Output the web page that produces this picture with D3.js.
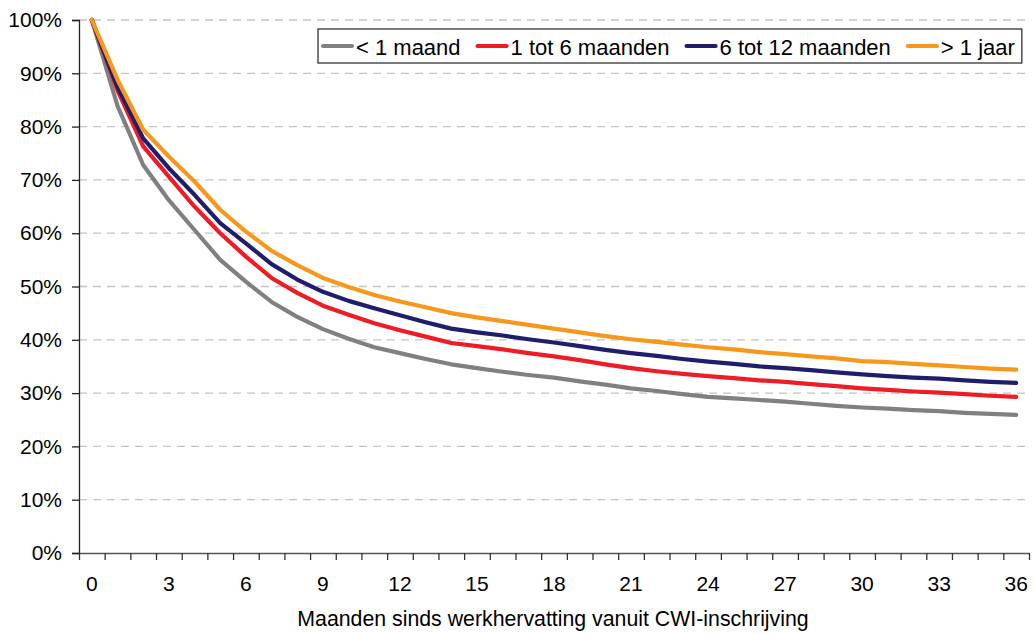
<!DOCTYPE html>
<html>
<head>
<meta charset="utf-8">
<script src="https://cdn.jsdelivr.net/npm/d3@7"></script>
<style>
  html, body { margin: 0; padding: 0; background: #fff; }
  svg text { font-family: "Liberation Sans", Arial, sans-serif; }
</style>
</head>
<body>
<svg id="chart" width="1035" height="633"></svg>
<script>
const months = d3.range(0, 37);
const xTickLabels = [0, 3, 6, 9, 12, 15, 18, 21, 24, 27, 30, 33, 36];
const yTicks = [0, 10, 20, 30, 40, 50, 60, 70, 80, 90, 100];
const seriesNames = ["< 1 maand", "1 tot 6 maanden", "6 tot 12 maanden", "> 1 jaar"];
const seriesColors = ["#808080", "#ee1c25", "#1f1e6c", "#f7981d"];
const lessThan1Month = [100, 83.9, 72.8, 66.2, 60.6, 55.0, 50.9, 47.1, 44.3, 42.0, 40.2, 38.6, 37.5, 36.4, 35.4, 34.7, 34.0, 33.4, 32.9, 32.2, 31.6, 30.9, 30.4, 29.8, 29.3, 29.0, 28.7, 28.4, 28.0, 27.6, 27.3, 27.1, 26.8, 26.6, 26.3, 26.1, 25.9];
const oneToSixMonths = [100, 86.8, 76.3, 70.6, 65.0, 60.0, 55.6, 51.6, 48.8, 46.4, 44.7, 43.1, 41.8, 40.6, 39.4, 38.8, 38.2, 37.5, 36.9, 36.2, 35.4, 34.7, 34.1, 33.6, 33.2, 32.8, 32.4, 32.1, 31.7, 31.3, 30.9, 30.6, 30.3, 30.1, 29.8, 29.5, 29.3];
const sixToTwelveMonths = [100, 87.4, 77.8, 72.2, 67.2, 61.9, 58.1, 54.2, 51.3, 49.0, 47.3, 45.9, 44.6, 43.3, 42.1, 41.4, 40.8, 40.1, 39.5, 38.8, 38.1, 37.5, 37.0, 36.4, 35.9, 35.5, 35.0, 34.7, 34.3, 33.9, 33.5, 33.2, 32.9, 32.7, 32.4, 32.1, 31.9];
const overOneYear = [100, 88.8, 79.4, 74.4, 69.7, 64.4, 60.3, 56.7, 54.0, 51.6, 49.9, 48.4, 47.2, 46.1, 45.0, 44.2, 43.5, 42.8, 42.1, 41.4, 40.7, 40.1, 39.6, 39.1, 38.6, 38.2, 37.7, 37.3, 36.9, 36.5, 36.0, 35.8, 35.5, 35.2, 34.9, 34.6, 34.4];
const xTitle = "Maanden sinds werkhervatting vanuit CWI-inschrijving";

const seriesValues = [lessThan1Month, oneToSixMonths, sixToTwelveMonths, overOneYear];

(function () {
const svg = d3.select("#chart");
const mLeft = 79, mRight = 1029, mTop = 20, mBottom = 553;
const fontSize = 21;

const x = d3.scaleBand().domain(months).range([mLeft, mRight]).padding(0);
const xEdge = d3.scaleLinear().domain([0, months.length]).range([mLeft, mRight]);
const y = d3.scaleLinear().domain([0, 100]).range([mBottom, mTop]);

// gridlines
svg.append("g").selectAll("line").data(yTicks.filter(d => d > 0)).join("line")
  .attr("x1", mLeft).attr("x2", mRight)
  .attr("y1", d => y(d)).attr("y2", d => y(d))
  .attr("stroke", "#c4c4c4").attr("stroke-width", 1.3)
  .attr("stroke-dasharray", "8,6");

// y axis
const yAxis = svg.append("g").attr("transform", `translate(${mLeft},0)`)
  .call(d3.axisLeft(y).tickValues(yTicks).tickFormat(d => d + "%").tickSize(7).tickPadding(10));
yAxis.select(".domain").attr("stroke", "#222").attr("stroke-width", 1.3);
yAxis.selectAll(".tick line").attr("stroke", "#222").attr("stroke-width", 1.3);
yAxis.selectAll("text").attr("font-size", fontSize).attr("fill", "#000")
  .attr("font-family", "Liberation Sans, Arial, sans-serif");

// x axis tick marks (band boundaries)
const xTickAxis = svg.append("g").attr("transform", `translate(0,${mBottom})`)
  .call(d3.axisBottom(xEdge).tickValues(d3.range(0, months.length + 1)).tickFormat("").tickSize(7).tickSizeOuter(0));
xTickAxis.select(".domain").attr("stroke", "#555").attr("stroke-width", 1.6);
xTickAxis.selectAll(".tick line").attr("stroke", "#333").attr("stroke-width", 1.3);

// x axis labels
const xLabelAxis = svg.append("g").attr("transform", `translate(0,${mBottom})`)
  .call(d3.axisBottom(x).tickValues(xTickLabels).tickSize(0).tickPadding(23));
xLabelAxis.select(".domain").remove();
xLabelAxis.selectAll("text").attr("font-size", fontSize).attr("fill", "#000")
  .attr("font-family", "Liberation Sans, Arial, sans-serif");

// x title
svg.append("text").attr("x", (mLeft + mRight) / 2 - 1).attr("y", 626)
  .attr("text-anchor", "middle").attr("font-size", 21.3).attr("fill", "#000")
  .text(xTitle);

// lines
const line = d3.line().x((d, i) => x(months[i]) + x.bandwidth() / 2).y(d => y(d));
svg.append("g").selectAll("path").data(seriesValues).join("path")
  .attr("d", d => line(d))
  .attr("fill", "none")
  .attr("stroke", (d, i) => seriesColors[i])
  .attr("stroke-width", 4.2)
  .attr("stroke-linejoin", "round")
  .attr("stroke-linecap", "round");

// legend
const lg = svg.append("g");
const box = lg.append("rect").attr("x", 318).attr("y", 29).attr("height", 34)
  .attr("fill", "#fff").attr("stroke", "#222").attr("stroke-width", 1.2);
let cx = 323;
seriesNames.forEach((name, i) => {
  lg.append("line").attr("x1", cx).attr("x2", cx + 29).attr("y1", 46).attr("y2", 46)
    .attr("stroke", seriesColors[i]).attr("stroke-width", 4.2).attr("stroke-linecap", "round");
  const t = lg.append("text").attr("x", cx + 33).attr("y", 54.5)
    .attr("font-size", 22).attr("fill", "#000").text(name);
  const w = t.node().getComputedTextLength();
  cx = cx + 33 + w + 17;
});
box.attr("width", cx - 17 + 7 - 318);
})();
</script>
</body>
</html>
